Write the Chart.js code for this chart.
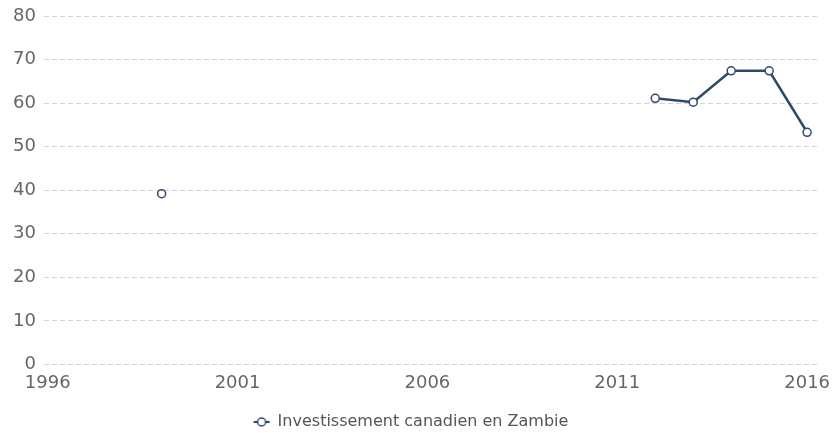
<!DOCTYPE html>
<html>
<head>
<meta charset="utf-8">
<script src="https://cdn.jsdelivr.net/npm/chart.js@4/dist/chart.umd.min.js"></script>
<style>
  html, body { margin: 0; padding: 0; background: #fff; }
  #wrap { width: 832px; height: 433px; }
</style>
</head>
<body>
<div id="wrap"><canvas id="chart"></canvas></div>
<script>
// years 1996..2016, gaps are null so the line breaks
const years = [1996, 1997, 1998, 1999, 2000, 2001, 2002, 2003, 2004, 2005, 2006,
               2007, 2008, 2009, 2010, 2011, 2012, 2013, 2014, 2015, 2016];
const investment = [null, null, null, 39.2, null, null, null, null, null, null, null,
                    null, null, null, null, null, 61.1, 60.2, 67.4, 67.4, 53.3];
const xTicks = [1996, 2001, 2006, 2011, 2016];
const yTicks = [0, 10, 20, 30, 40, 50, 60, 70, 80];
const seriesLabel = 'Investissement canadien en Zambie';

const navy = '#2c4a6e';

// little "-o-" icon for the legend
function legendIcon() {
    var c = document.createElement('canvas');
    c.width = 18; c.height = 12;
    var g = c.getContext('2d');
    g.strokeStyle = navy;
    g.lineWidth = 2;
    g.beginPath(); g.moveTo(1, 6); g.lineTo(17, 6); g.stroke();
    g.fillStyle = '#fff';
    g.lineWidth = 1.5;
    g.beginPath(); g.arc(9, 6, 4, 0, Math.PI * 2); g.fill(); g.stroke();
    return c;
}

Chart.defaults.font.family = '"DejaVu Sans", sans-serif';

new Chart(document.getElementById('chart').getContext('2d'), {
    type: 'line',
    data: {
        datasets: [{
            label: seriesLabel,
            data: years.map((y, i) => ({ x: y, y: investment[i] })),
            borderColor: navy,
            backgroundColor: '#fff',
            borderWidth: 2.5,
            pointRadius: 4,
            pointBorderWidth: 1.5,
            pointBackgroundColor: '#fff',
            pointBorderColor: navy,
            spanGaps: false,
            tension: 0
        }]
    },
    options: {
        responsive: true,
        maintainAspectRatio: false,
        animation: false,
        layout: { padding: { left: 5, right: 15, top: 16, bottom: -7 } },
        scales: {
            x: {
                type: 'linear',
                min: 1995.9,
                max: 2016.26,
                afterBuildTicks: function (axis) {
                    axis.ticks = xTicks.map(v => ({ value: v }));
                },
                afterFit: function (axis) {
                    axis.height += 8;
                    // let the 2016 label hang into the right margin
                    axis.paddingRight = 0;
                },
                grid: { display: false, drawTicks: false },
                border: { display: false },
                ticks: {
                    color: '#666',
                    font: { size: 18 },
                    padding: 8,
                    maxRotation: 0,
                    callback: v => String(v)
                }
            },
            y: {
                min: 0,
                max: 80,
                afterBuildTicks: function (axis) {
                    axis.ticks = yTicks.map(v => ({ value: v }));
                },
                afterFit: function (axis) {
                    axis.paddingTop = 0;
                    axis.paddingBottom = 0;
                },
                grid: { color: '#d4d4d4', drawTicks: false },
                border: { display: false, dash: [5, 3] },
                ticks: { color: '#666', font: { size: 18 }, padding: 8 }
            }
        },
        plugins: {
            legend: {
                position: 'bottom',
                labels: {
                    color: '#555',
                    font: { size: 16 },
                    padding: 4,
                    usePointStyle: true,
                    generateLabels: function (chart) {
                        var items = Chart.defaults.plugins.legend.labels.generateLabels(chart);
                        items.forEach(it => { it.pointStyle = legendIcon(); });
                        return items;
                    }
                }
            },
            tooltip: { enabled: false }
        }
    }
});
</script>
</body>
</html>
